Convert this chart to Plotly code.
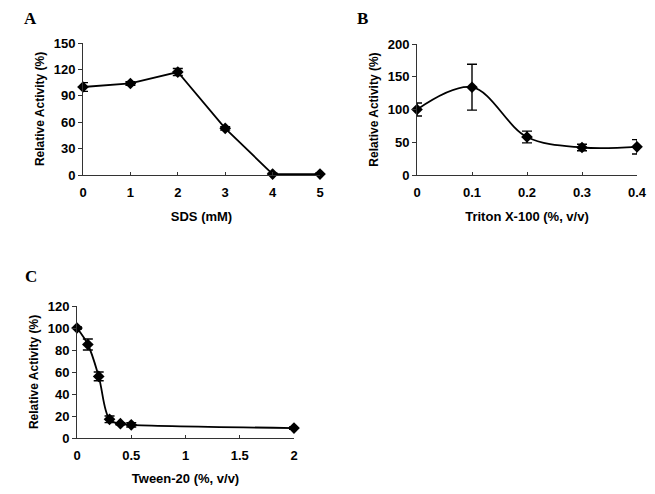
import plotly.graph_objects as go

# Panel A: SDS
sds_mm = [0, 1, 2, 3, 4, 5]
sds_act = [100, 104, 117, 53, 1, 1]
sds_err = [5, 2, 4, 2, 1, 1]

# Panel B: Triton X-100
triton_pct = [0, 0.1, 0.2, 0.3, 0.4]
triton_act = [100, 134, 58, 42, 43]
triton_err = [10, 35, 9, 5, 11]

# Panel C: Tween-20
tween_pct = [0, 0.1, 0.2, 0.3, 0.4, 0.5, 2]
tween_act = [100, 85, 56, 17, 13, 12, 9]
tween_err = [1, 5, 4, 3, 1, 2, 1]

FONT = "Liberation Sans"
BLACK = "#000000"

fig = go.Figure()

def add_series(x, y, err, xa, ya, shape):
    fig.add_trace(go.Scatter(
        x=x, y=y, xaxis=xa, yaxis=ya,
        mode="lines+markers",
        line=dict(color=BLACK, width=1.8, shape=shape, smoothing=1.0),
        marker=dict(symbol="diamond", size=9, color=BLACK),
        error_y=dict(type="data", array=err, visible=True,
                     color=BLACK, thickness=1.4, width=5),
        cliponaxis=False, showlegend=False,
    ))

add_series(sds_mm, sds_act, sds_err, "x", "y", "linear")
add_series(triton_pct, triton_act, triton_err, "x2", "y2", "spline")
add_series(tween_pct, tween_act, tween_err, "x3", "y3", "spline")

# page body has an 8px margin, so lay out in window pixels minus that
OFF = 8
W, H = 655 - 2 * OFF, 494 - 2 * OFF

def xdom(a, b):
    return [(a - OFF) / W, (b - OFF) / W]

def ydom(top, bottom):
    return [(H - (bottom - OFF)) / H, (H - (top - OFF)) / H]

tick_font = dict(family=FONT, size=13, color=BLACK, weight="bold")
xtitle_font = dict(family=FONT, size=13, color=BLACK)
ytitle_font = dict(family=FONT, size=12, color=BLACK)

def xaxis(dom, anchor, rng, dtick, title):
    return dict(domain=dom, anchor=anchor, range=rng, dtick=dtick,
                automargin=False,
                showline=True, linecolor="#333333", linewidth=1,
                ticks="inside", ticklen=3, tickcolor="#333333",
                showgrid=False, zeroline=False,
                tickfont=tick_font, ticklabelstandoff=5,
                title=dict(text="<b>" + title + "</b>", font=xtitle_font, standoff=13))

def yaxis(dom, anchor, rng, dtick):
    return dict(domain=dom, anchor=anchor, range=rng, dtick=dtick,
                automargin=False,
                showline=True, linecolor="#333333", linewidth=1,
                ticks="outside", ticklen=4, tickcolor="#333333",
                showgrid=False, zeroline=False,
                tickfont=tick_font,
                title=dict(text="<b>Relative Activity (%)</b>", font=ytitle_font, standoff=6))

fig.update_layout(
    width=W, height=H,
    margin=dict(l=0, r=0, t=0, b=0),
    paper_bgcolor="white", plot_bgcolor="white",
    font=dict(family=FONT, color=BLACK),
    xaxis=xaxis(xdom(83, 320), "y", [0, 5], 1, "SDS (mM)"),
    yaxis=yaxis(ydom(43, 175), "x", [0, 150], 30),
    xaxis2=xaxis(xdom(417, 637), "y2", [0, 0.4], 0.1, "Triton X-100 (%, v/v)"),
    yaxis2=yaxis(ydom(44, 175), "x2", [0, 200], 50),
    xaxis3=xaxis(xdom(77, 294), "y3", [0, 2], 0.5, "Tween-20 (%, v/v)"),
    yaxis3=yaxis(ydom(306, 438), "x3", [0, 120], 20),
)

# panel letters: (centre x, top y) in window pixels
for label, x, y in [("A", 30, 8), ("B", 362, 8), ("C", 31, 266)]:
    fig.add_annotation(text="<b>" + label + "</b>",
                       x=(x - OFF) / W, y=(H - (y - OFF)) / H,
                       xref="paper", yref="paper", showarrow=False,
                       xanchor="center", yanchor="top",
                       borderpad=0,
                       font=dict(family="Liberation Serif", size=17, color=BLACK))

fig.write_html("out.html")
